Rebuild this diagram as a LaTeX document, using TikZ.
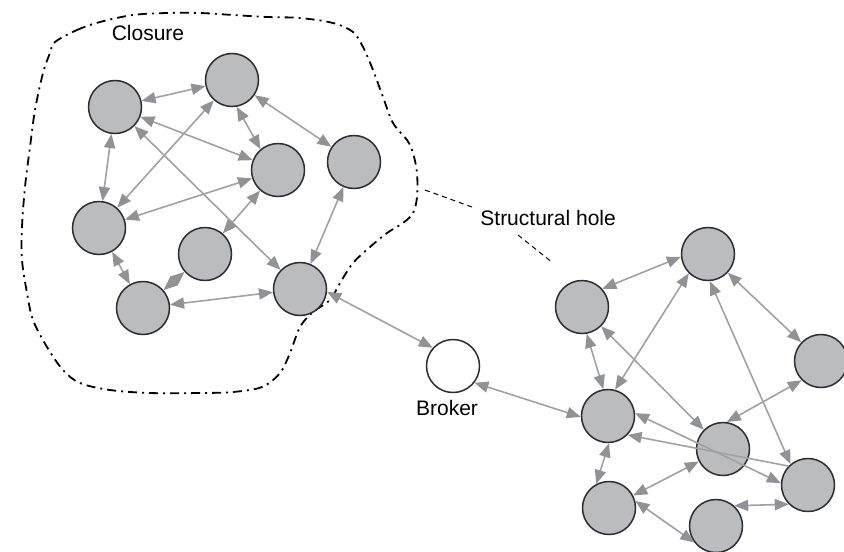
\documentclass[tikz,border=0pt]{standalone}
\usepackage{fontspec}
\setmainfont{Liberation Sans}
\usetikzlibrary{arrows.meta}

\definecolor{nodegray}{RGB}{187,188,191}
\definecolor{tiegray}{RGB}{160,161,164}
\definecolor{tipgray}{RGB}{145,146,149}
\definecolor{rimgray}{RGB}{45,45,45}

\begin{document}
\begin{tikzpicture}[x=0.5pt, y=-0.5pt,
    >={Triangle[length=7pt, width=5.6pt, color=tipgray]},
    actor/.style={circle, draw=rimgray, fill=nodegray, line width=0.75pt, minimum size=26.5pt, inner sep=0pt},
    broker/.style={actor, fill=white},
    tie/.style={<->, draw=tiegray, line width=0.8pt},
    txt/.style={font=\fontsize{10.5}{12.6}\selectfont, inner sep=0pt}]
    \useasboundingbox (0,0) rectangle (844,551);

    % Closure boundary
    \draw[line width=0.9pt, dash pattern=on 4.5pt off 2.5pt on 1pt off 2.5pt]
        plot[smooth cycle, tension=0.55] coordinates {
        (55,42) (77,30) (100,22) (133,15) (167,13) (200,13) (233,15) (267,17)
        (300,18) (333,23) (353,32) (363,47) (373,70) (383,97) (393,123)
        (407,140) (413,153) (417,173) (417,197) (413,213) (403,223) (387,233)
        (370,247) (353,263) (340,283) (330,300) (313,312) (300,327) (290,353)
        (280,373) (262,387) (233,392) (200,393) (150,393) (110,390) (80,383)
        (63,370) (47,347) (33,320) (27,293) (22,260) (22,227) (25,187)
        (30,147) (35,110) (43,73) (50,53)};

    % Closed group
    \node[actor] (a1) at (115,107) {};
    \node[actor] (a2) at (232,80) {};
    \node[actor] (a3) at (278,170) {};
    \node[actor] (a4) at (354,162) {};
    \node[actor] (a5) at (99,228) {};
    \node[actor] (a6) at (205,254) {};
    \node[actor] (a7) at (143,308) {};
    \node[actor] (a8) at (300,289) {};

    % Broker
    \node[broker] (broker) at (453,366) {};

    % Other group
    \node[actor] (b1) at (708,254) {};
    \node[actor] (b2) at (582,307) {};
    \node[actor] (b3) at (821,361) {};
    \node[actor] (b4) at (608,416) {};
    \node[actor] (b5) at (723,449) {};
    \node[actor] (b6) at (808,485) {};
    \node[actor] (b7) at (609,508) {};
    \node[actor] (b8) at (716,526) {};

    % Ties in the closed group
    \draw[tie] (a1) -- (a2);
    \draw[tie] (a1) -- (a3);
    \draw[tie] (a1) -- (a5);
    \draw[tie] (a1) -- (a8);
    \draw[tie] (a2.-80) -- (a3.130);
    \draw[tie] (a2) -- (a5);
    \draw[tie] (a2) -- (a4);
    \draw[tie] (a3) -- (a5);
    \draw[tie] (a3) -- (a6);
    \draw[tie] (a4) -- (a8);
    \draw[tie] (a5) -- (a7);
    \draw[tie] (a6) -- (a7);
    \draw[tie] (a7) -- (a8);

    % Ties through the broker
    \draw[tie] (a8.-6) -- (broker.138);
    \draw[tie] (broker.-38) -- (b4.182);

    % Ties in the other group
    \draw[tie] (b1.186) -- (b2.42);
    \draw[tie] (b1.225) -- (b4.75);
    \draw[tie] (b1) -- (b3);
    \draw[tie] (b1.-86) -- (b6.130);
    \draw[tie] (b2.-80) -- (b4.100);
    \draw[tie] (b2) -- (b5);
    \draw[tie] (b3.225) -- (b5.82);
    \draw[tie] (b4.6) -- (b6.176);
    \draw[tie, <-] (b4.-44) -- (b6.136);
    \draw[tie] (b4.-88) -- (b7.118);
    \draw[tie] (b7) -- (b5);
    \draw[tie] (b7.15) -- (b8.217);
    \draw[tie] (b8.48) -- (b6.225);

    % Labels
    \node[txt, anchor=base] (closure) at (148,41) {Closure};
    \node[txt, anchor=base] (brokername) at (447,415) {Broker};
    \node[txt, anchor=base west] (hole) at (480,225) {Structural hole};

    % Pointers to the hole
    \coordinate (holeA) at (425,190);
    \coordinate (holeB) at (472,207);
    \coordinate (holeC) at (518,235);
    \coordinate (holeD) at (553,263);
    \draw[line width=0.5pt, dash pattern=on 2.5pt off 2pt] (holeA) -- (holeB);
    \draw[line width=0.5pt, dash pattern=on 2.5pt off 2pt] (holeC) -- (holeD);
\end{tikzpicture}
\end{document}
